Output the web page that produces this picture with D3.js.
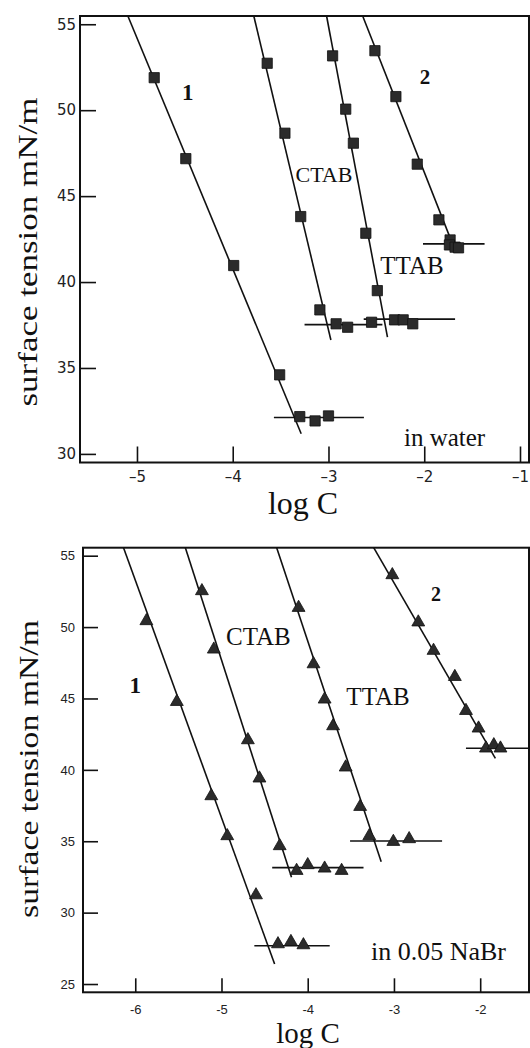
<!DOCTYPE html>
<html>
<head>
<meta charset="utf-8">
<script src="https://cdn.jsdelivr.net/npm/d3@7"></script>
<style>
body{margin:0;background:#fff;}
svg{display:block;}
</style>
</head>
<body>
<div id="chart"></div>
<script>
// ---- top panel: in water (squares) ----
var waterXTicks = [-5,-4,-3,-2,-1];
var waterYTicks = [30,35,40,45,50,55];
var water1    = [[-4.82,51.89],[-4.49,47.18],[-3.99,40.96],[-3.51,34.60],[-3.30,32.17],[-3.14,31.92],[-3.00,32.21]];
var waterCTAB = [[-3.64,52.73],[-3.455,48.66],[-3.29,43.81],[-3.09,38.38],[-2.92,37.57],[-2.80,37.37]];
var waterTTAB = [[-2.957,53.16],[-2.82,50.06],[-2.74,48.08],[-2.61,42.84],[-2.49,39.50],[-2.55,37.66],[-2.31,37.80],[-2.22,37.80],[-2.12,37.57]];
var water2    = [[-2.515,53.46],[-2.296,50.79],[-2.073,46.86],[-1.847,43.62],[-1.73,42.45],[-1.737,42.16],[-1.678,42.03],[-1.642,41.99]];
// fitted lines (steep part, then plateau after the cmc)
var water1Fit    = [[-5.095,55.48],[-3.285,31.17]];
var water1Cmc    = [[-3.57,32.12],[-2.63,32.12]];
var waterCTABFit = [[-3.78,55.48],[-2.975,36.63]];
var waterCTABCmc = [[-3.25,37.52],[-2.437,37.52]];
var waterTTABFit = [[-3.02,55.48],[-2.384,36.79]];
var waterTTABCmc = [[-2.632,37.84],[-1.678,37.84]];
var water2Fit    = [[-2.643,55.48],[-1.68,41.87]];
var water2Cmc    = [[-2.013,42.22],[-1.37,42.22]];

// ---- bottom panel: in 0.05 NaBr (triangles) ----
var nabrXTicks = [-6,-5,-4,-3,-2];
var nabrYTicks = [25,30,35,40,45,50,55];
var nabr1    = [[-5.871,50.43],[-5.518,44.77],[-5.118,38.17],[-4.933,35.37],[-4.60,31.23],[-4.345,27.80],[-4.195,27.96],[-4.05,27.73]];
var nabrCTAB = [[-5.227,52.53],[-5.089,48.44],[-4.694,42.09],[-4.56,39.41],[-4.325,34.67],[-4.129,32.94],[-4.00,33.34],[-3.804,33.10],[-3.607,32.94]];
var nabrTTAB = [[-4.106,51.36],[-3.933,47.41],[-3.804,44.94],[-3.706,43.07],[-3.56,40.18],[-3.392,37.42],[-3.286,35.37],[-3.007,34.97],[-2.824,35.16]];
var nabr2    = [[-3.019,53.65],[-2.718,50.34],[-2.541,48.35],[-2.294,46.52],[-2.165,44.14],[-2.019,42.91],[-1.933,41.51],[-1.842,41.74],[-1.765,41.51]];
var nabr1Fit    = [[-6.136,55.56],[-4.384,26.40]];
var nabr1Cmc    = [[-4.619,27.68],[-3.745,27.68]];
var nabrCTABFit = [[-5.419,55.56],[-4.188,32.47]];
var nabrCTABCmc = [[-4.412,33.15],[-3.353,33.15]];
var nabrTTABFit = [[-4.36,55.56],[-3.148,33.57]];
var nabrTTABCmc = [[-3.509,35.02],[-2.442,35.02]];
var nabr2Fit    = [[-3.235,55.56],[-1.824,40.81]];
var nabr2Cmc    = [[-2.165,41.51],[-1.44,41.51]];

function drawPanel(svg, p){
    // scales for this panel
    var x = d3.scaleLinear().domain(p.xDomain).range([p.left, p.right]);
    var y = d3.scaleLinear().domain(p.yDomain).range([p.bottom, p.top]);

    var g = svg.append("g");

    // x axis, ticks pointing inward
    var xAxis = g.append("g")
        .attr("transform", "translate(0," + p.bottom + ")")
        .call(d3.axisBottom(x).tickValues(p.xTicks).tickSize(-p.xTickLen)
            .tickPadding(p.xPad).tickFormat(function(d){ return String(d).replace("-", p.minus); }));
    xAxis.select(".domain").remove();
    xAxis.selectAll("line").attr("stroke", "#111").attr("stroke-width", 1.6);
    xAxis.selectAll("text").attr("font-family", p.tickFont).attr("font-size", p.tickSize).attr("fill", "#222");

    // y axis, ticks pointing inward
    var yAxis = g.append("g")
        .attr("transform", "translate(" + p.left + ",0)")
        .call(d3.axisLeft(y).tickValues(p.yTicks).tickSize(-p.yTickLen)
            .tickPadding(p.yPad).tickFormat(function(d){ return String(d); }));
    yAxis.select(".domain").remove();
    yAxis.selectAll("line").attr("stroke", "#111").attr("stroke-width", 1.6);
    yAxis.selectAll("text").attr("font-family", p.tickFont).attr("font-size", p.tickSize).attr("fill", "#222");

    // frame
    g.append("rect")
        .attr("x", p.left).attr("y", p.top)
        .attr("width", p.right - p.left).attr("height", p.bottom - p.top)
        .attr("fill", "none").attr("stroke", "#111").attr("stroke-width", 2);

    // fitted lines
    var line = d3.line().x(function(d){ return x(d[0]); }).y(function(d){ return y(d[1]); });
    g.selectAll("path.fit")
        .data(p.lines)
        .enter()
        .append("path")
        .attr("class", "fit")
        .attr("d", line)
        .attr("fill", "none")
        .attr("stroke", "#111")
        .attr("stroke-width", 1.6);

    // markers
    var sym = d3.symbol().type(p.symbol).size(p.symbolSize);
    p.series.forEach(function(s){
        g.selectAll(null)
            .data(s)
            .enter()
            .append("path")
            .attr("d", sym)
            .attr("transform", function(d){ return "translate(" + x(d[0]) + "," + y(d[1]) + ")"; })
            .attr("fill", "#2b2b2b")
            .attr("stroke", "#111")
            .attr("stroke-width", 0.8);
    });

    // labels inside the plot
    g.selectAll("text.note")
        .data(p.notes)
        .enter()
        .append("text")
        .attr("class", "note")
        .attr("x", function(d){ return x(d.x); })
        .attr("y", function(d){ return y(d.y); })
        .attr("text-anchor", function(d){ return d.anchor || "middle"; })
        .attr("font-family", "'Liberation Serif', serif")
        .attr("font-size", function(d){ return d.size; })
        .attr("font-weight", function(d){ return d.bold ? "bold" : "normal"; })
        .attr("fill", "#111")
        .text(function(d){ return d.text; });

    // axis titles
    svg.append("text")
        .attr("x", p.xTitleX).attr("y", p.xTitleY)
        .attr("text-anchor", "middle")
        .attr("font-family", "'Liberation Serif', serif")
        .attr("font-size", p.xTitleSize)
        .attr("fill", "#111")
        .text("log C");

    svg.append("text")
        .attr("transform", "translate(" + p.yTitleX + "," + p.yTitleY + ") rotate(-90)")
        .attr("text-anchor", "middle")
        .attr("font-family", "'Liberation Serif', serif")
        .attr("font-size", 28)
        .attr("textLength", p.yTitleLen)
        .attr("lengthAdjust", "spacingAndGlyphs")
        .attr("fill", "#111")
        .text("surface tension mN/m");
}

function init(){
    var w = 530, h = 1048;
    var svg = d3.select("#chart").append("svg")
        .attr("width", w).attr("height", h)
        .style("background", "#fff");

    drawPanel(svg, {
        left: 80, right: 529, top: 16, bottom: 462.5,
        xDomain: [-5.595, -0.906], yDomain: [29.5, 55.48],
        xTicks: waterXTicks, yTicks: waterYTicks,
        xTickLen: 16, yTickLen: 16, xPad: 9, yPad: 4,
        tickFont: "'DejaVu Sans', sans-serif", tickSize: 15, minus: "\u2013",
        lines: [water1Fit, water1Cmc, waterCTABFit, waterCTABCmc, waterTTABFit, waterTTABCmc, water2Fit, water2Cmc],
        series: [water1, waterCTAB, waterTTAB, water2],
        symbol: d3.symbolSquare, symbolSize: 105,
        notes: [
            {text: "1", x: -4.47, y: 50.6, size: 23, bold: true},
            {text: "2", x: -1.992, y: 51.52, size: 21, bold: true},
            {text: "CTAB", x: -3.047, y: 45.84, size: 22},
            {text: "TTAB", x: -2.128, y: 40.45, size: 25},
            {text: "in water", x: -2.212, y: 30.47, size: 25, anchor: "start"}
        ],
        xTitleX: 303, xTitleY: 514, xTitleSize: 32,
        yTitleX: 37, yTitleY: 252, yTitleLen: 309
    });

    drawPanel(svg, {
        left: 83, right: 529, top: 547.7, bottom: 992.3,
        xDomain: [-6.606, -1.434], yDomain: [24.42, 55.56],
        xTicks: nabrXTicks, yTicks: nabrYTicks,
        xTickLen: 14, yTickLen: 15, xPad: 12, yPad: 8,
        tickFont: "'Liberation Sans', Arial, sans-serif", tickSize: 13, minus: "-",
        lines: [nabr1Fit, nabr1Cmc, nabrCTABFit, nabrCTABCmc, nabrTTABFit, nabrTTABCmc, nabr2Fit, nabr2Cmc],
        series: [nabr1, nabrCTAB, nabrTTAB, nabr2],
        symbol: d3.symbolTriangle, symbolSize: 72,
        notes: [
            {text: "1", x: -5.999, y: 45.38, size: 23, bold: true},
            {text: "2", x: -2.512, y: 51.83, size: 20, bold: true},
            {text: "CTAB", x: -4.573, y: 48.74, size: 25},
            {text: "TTAB", x: -3.185, y: 44.54, size: 25},
            {text: "in 0.05 NaBr", x: -3.267, y: 26.68, size: 26, anchor: "start"}
        ],
        xTitleX: 308, xTitleY: 1043, xTitleSize: 29,
        yTitleX: 37.5, yTitleY: 769, yTitleLen: 298
    });
}
window.onload = init;
</script>
</body>
</html>
